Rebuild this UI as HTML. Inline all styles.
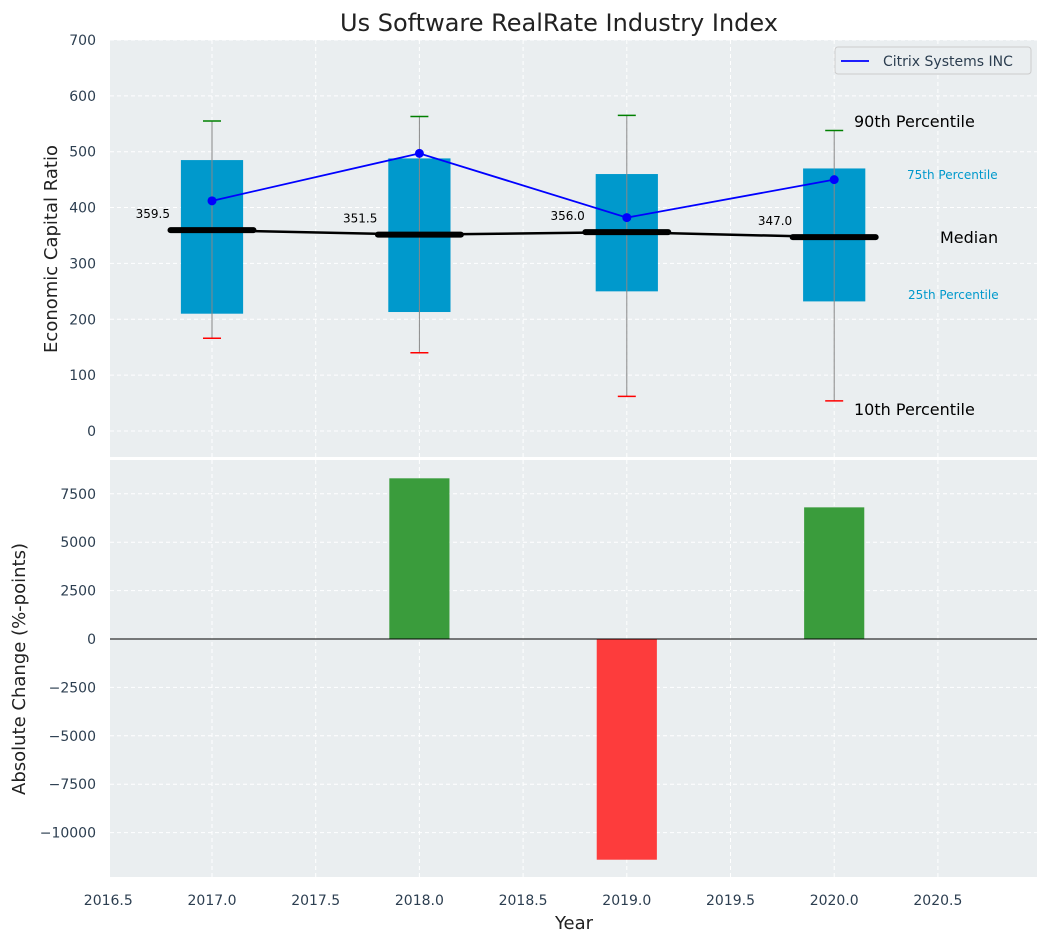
<!DOCTYPE html>
<html><head><meta charset="utf-8"><style>
body{margin:0;background:#fff;font-family:"Liberation Sans","DejaVu Sans",sans-serif}
</style></head><body>
<svg id="c" width="1048" height="942" xmlns="http://www.w3.org/2000/svg" font-family="DejaVu Sans, Liberation Sans, sans-serif"></svg>
<script>
const years=[2017,2018,2019,2020];
const p10=[166,140,62,54];
const p25=[210,213,250,232];
const median=[359.5,351.5,356.0,347.0];
const p75=[485,488,460,470];
const p90=[555,563,565,538];
const company=[412,497,382,450];
const change=[0,8300,-11400,6800];
const xTicks=[2016.5,2017.0,2017.5,2018.0,2018.5,2019.0,2019.5,2020.0,2020.5];
const yTopTicks=[0,100,200,300,400,500,600,700];
const yBotTicks=[7500,5000,2500,0,-2500,-5000,-7500,-10000];

const NS="http://www.w3.org/2000/svg";
const svg=document.getElementById('c');
function el(tag,attrs,parent){const e=document.createElementNS(NS,tag);for(const k in attrs)e.setAttribute(k,attrs[k]);(parent||svg).appendChild(e);return e;}
const L=110,R=1037,T1=40,B1=457,T2=460,B2=877;
const x=v=>212+(v-2017)*207.4;
const yT=v=>431-v*0.5586;
const yB=v=>639-v*0.01936;

// backgrounds
let r=el('rect',{x:L,y:T1,width:R-L,height:B1-T1,fill:'#eaeef0'});

r=el('rect',{x:L,y:T2,width:R-L,height:B2-T2,fill:'#eaeef0'});


// grids
xTicks.forEach(t=>{
 [[T1,B1],[T2,B2]].forEach(([a,b])=>{let g=el('line',{x1:x(t),x2:x(t),y1:a,y2:b,stroke:'#fff','stroke-dasharray':'4,3','stroke-width':1});
 });
});
yTopTicks.forEach(t=>{let g=el('line',{x1:L,x2:R,y1:yT(t),y2:yT(t),stroke:'#fff','stroke-dasharray':'4,3'});
 
 let tx=el('text',{x:L-14,y:yT(t)+5,'text-anchor':'end','font-size':14,fill:'#2c3e50'});tx.textContent=t;
 });
yBotTicks.forEach(t=>{let g=el('line',{x1:L,x2:R,y1:yB(t),y2:yB(t),stroke:'#fff','stroke-dasharray':'4,3'});
 
 let tx=el('text',{x:L-14,y:yB(t)+5,'text-anchor':'end','font-size':14,fill:'#2c3e50'});tx.textContent=t<0?'\u2212'+(-t):t;
 });
xTicks.forEach(t=>{let tx=el('text',{x:x(t),y:905,'text-anchor':'middle','font-size':14,fill:'#2c3e50'});tx.textContent=t.toFixed(1);
 });

// boxes
years.forEach((yr,i)=>{
 const cx=x(yr),hw=0.15*207.4;
 let b=el('rect',{x:cx-hw,y:yT(p75[i]),width:2*hw,height:yT(p25[i])-yT(p75[i]),fill:'#0099cc'});
 
 let w=el('line',{x1:cx,x2:cx,y1:yT(p90[i]),y2:yT(p10[i]),stroke:'#888','stroke-width':1});
 
 let c1=el('line',{x1:cx-9,x2:cx+9,y1:yT(p90[i]),y2:yT(p90[i]),stroke:'green','stroke-width':1.5});
 
 let c2=el('line',{x1:cx-9,x2:cx+9,y1:yT(p10[i]),y2:yT(p10[i]),stroke:'red','stroke-width':1.5});
 
});
// median line
let mp=el('polyline',{points:years.map((yr,i)=>x(yr)+','+yT(median[i])).join(' '),fill:'none',stroke:'#000','stroke-width':2.5});

years.forEach((yr,i)=>{const cx=x(yr);
 let m=el('line',{x1:cx-0.2*207.4,x2:cx+0.2*207.4,y1:yT(median[i]),y2:yT(median[i]),stroke:'#000','stroke-width':6,'stroke-linecap':'round'});
 
 let t=el('text',{x:cx-42,y:yT(median[i])-12,'text-anchor':'end','font-size':12,fill:'#000'});t.textContent=median[i].toFixed(1);
 
});
// company line
let cp=el('polyline',{points:years.map((yr,i)=>x(yr)+','+yT(company[i])).join(' '),fill:'none',stroke:'blue','stroke-width':1.8});

years.forEach((yr,i)=>{let d=el('circle',{cx:x(yr),cy:yT(company[i]),r:4.5,fill:'blue'});
 });

// annotations
const ann=[[854,127,'90th Percentile',16,'#000','start'],[907,179,'75th Percentile',12,'#0099cc','start'],[940,243,'Median',16,'#000','start'],[908,299,'25th Percentile',12,'#0099cc','start'],[854,415,'10th Percentile',16,'#000','start']];
ann.forEach(a=>{let t=el('text',{x:a[0],y:a[1],'font-size':a[3],fill:a[4],'font-family':'DejaVu Sans, sans-serif'});t.textContent=a[2];
 });

// legend
let lg=el('rect',{x:835,y:47,width:196,height:27,fill:'#eaeef0',stroke:'#ccc',rx:3});

let ll=el('line',{x1:841,x2:869,y1:61,y2:61,stroke:'blue','stroke-width':1.8});

let lt=el('text',{x:883,y:66,'font-size':14,fill:'#2c3e50'});lt.textContent='Citrix Systems INC';


// change bars
years.forEach((yr,i)=>{if(change[i]===0)return;const hw=0.145*207.4;
 const y0=yB(Math.max(0,change[i])),y1=yB(Math.min(0,change[i]));
 let b=el('rect',{x:x(yr)-hw,y:y0,width:2*hw,height:y1-y0,fill:change[i]>0?'#3a9c3c':'#fd3c3c'});
 });
let zl=el('line',{x1:L,x2:R,y1:yB(0),y2:yB(0),stroke:'#000','stroke-width':1});


// titles
let tt=el('text',{x:559,y:31,'text-anchor':'middle','font-size':24,fill:'#222'});tt.textContent='Us Software RealRate Industry Index';

let xt=el('text',{x:574,y:929,'text-anchor':'middle','font-size':18,fill:'#222'});xt.textContent='Year';

let y1t=el('text',{x:57,y:249,'text-anchor':'middle','font-size':18,fill:'#222',transform:'rotate(-90 57 249)'});y1t.textContent='Economic Capital Ratio';

let y2t=el('text',{x:25,y:669,'text-anchor':'middle','font-size':18,fill:'#222',transform:'rotate(-90 25 669)'});y2t.textContent='Absolute Change (%-points)';

</script>
</body></html>
